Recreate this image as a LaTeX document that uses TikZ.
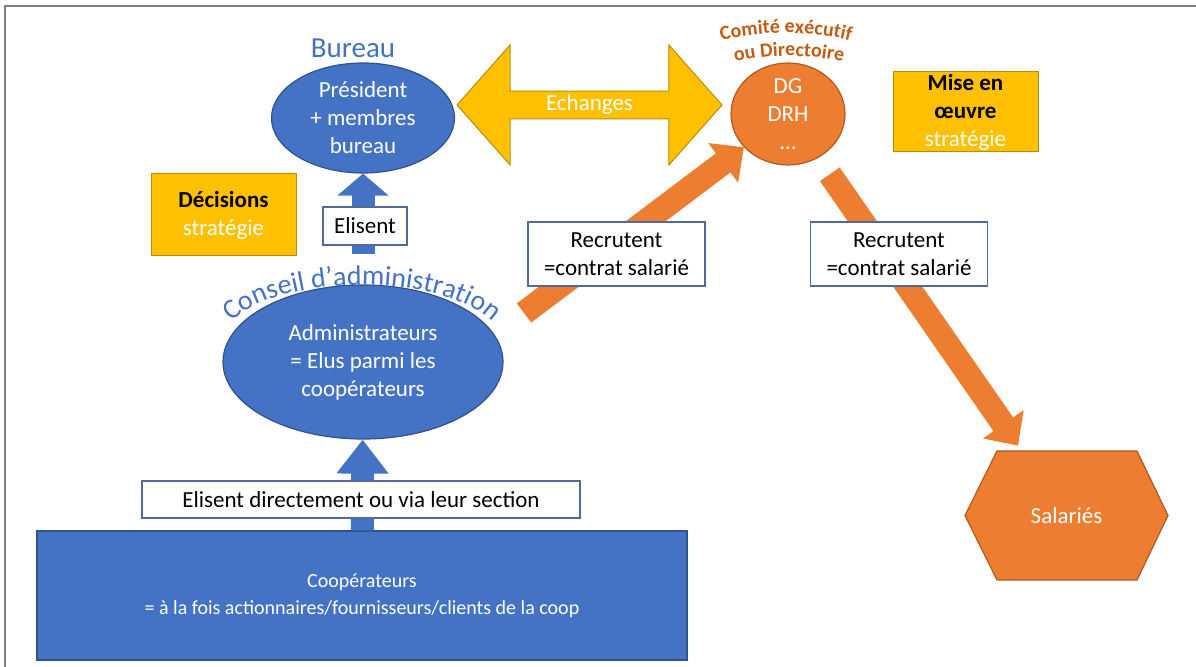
\documentclass[tikz,border=0pt]{standalone}
\usepackage{fontspec}
\setmainfont{Carlito}
\usepackage{xcolor}
\usepackage{tikz}
\usetikzlibrary{arrows.meta,shapes,decorations.text}

\definecolor{coopblue}{HTML}{4472C4}
\definecolor{coopblueline}{HTML}{2F528F}
\definecolor{cooporange}{HTML}{ED7D31}
\definecolor{cooporangeline}{HTML}{AE5A21}
\definecolor{coopgold}{HTML}{FFC000}
\definecolor{coopgoldline}{HTML}{BC8C00}
\definecolor{comitetext}{HTML}{C55A11}
\definecolor{labelline}{HTML}{4F6B9A}
\definecolor{framegray}{HTML}{7F7F7F}

\begin{document}
\begin{tikzpicture}[x=0.5pt,y=-0.5pt,
        txt/.style={font=\fontsize{11.5}{14}\selectfont,align=center},
        blueell/.style={ellipse,fill=coopblue,draw=coopblueline,line width=0.6pt,text=white,txt,inner sep=-1.5pt},
        goldbox/.style={rectangle,fill=coopgold,draw=coopgoldline,line width=0.5pt,txt,inner sep=0pt},
        labelbox/.style={rectangle,fill=white,draw=labelline,line width=0.6pt,txt,inner sep=0pt},
        bluearrow/.style={draw=coopblue,line width=11.5pt,-{Triangle[width=25pt,length=#1]}},
        bluearrow/.default=11pt,
        orangearrow/.style={draw=cooporange,line width=12pt,-{Triangle[width=24pt,length=13pt]}}]
    \useasboundingbox (0,0) rectangle (1196,667);
    \draw[framegray,line width=1.2pt] (5,667) -- (5,6) -- (1196,6);

    \node[blueell,minimum width=91.5pt,minimum height=55pt] (bureau) at (363,118) {Président\\+ membres\\bureau};
    \node[blueell,minimum width=140pt,minimum height=77pt] (conseil) at (363,362) {Administrateurs\\= Elus parmi les\\coopérateurs};
    \node[rectangle,fill=coopblue,draw=coopblueline,line width=0.6pt,text=white,align=center,
        font=\fontsize{10}{13.5}\selectfont,minimum width=325pt,minimum height=64.5pt] (coop) at (362,595.5) {Coopérateurs\\= à la fois actionnaires/fournisseurs/clients de la coop};
    \node[ellipse,fill=cooporange,draw=cooporangeline,line width=0.6pt,text=white,txt,inner sep=-4pt,minimum width=57pt,minimum height=51pt] (comite) at (788,114) {DG\\DRH\\…};
    \fill[cooporange,draw=cooporangeline,line width=0.6pt] (965,515.5) -- (997,451) -- (1137,451) -- (1168,515.5) -- (1137,580) -- (997,580) -- cycle;
    \node[txt,text=white,minimum width=101.5pt,minimum height=64.5pt] (salaries) at (1066.5,515.5) {Salariés};

    \node[goldbox,minimum width=72.5pt,minimum height=41pt] (decisions) at (223.5,215) {\textbf{Décisions}\\\textcolor{white}{stratégie}};
    \node[goldbox,minimum width=72.5pt,minimum height=40pt] (miseoeuvre) at (965.5,112) {\textbf{Mise en}\\\textbf{œuvre}\\\textcolor{white}{stratégie}};
    \node[double arrow,fill=coopgold,draw=coopgoldline,line width=0.5pt,text=white,txt,inner sep=0pt,
        minimum width=60pt,minimum height=132.5pt,double arrow head extend=17.5pt,
        double arrow head indent=0pt,double arrow tip angle=97] (echanges) at (589.5,105) {Echanges};

    \node[text=coopblue,font=\fontsize{14.5}{14.5}\selectfont] (bureautitle) at (353,48) {Bureau};
    \path[decorate,decoration={text along path,text align=center,text color=coopblue,
        text={|\fontsize{14}{14}\selectfont|Conseil d’administration}}]
        (224.8,329.5) arc[start angle=195,end angle=345,x radius=142,y radius=60];
    \path[decorate,decoration={text along path,text align=center,text color=comitetext,
        text={|\bfseries\fontsize{10}{10}\selectfont|Comité exécutif}}]
        (709.9,43.7) arc[start angle=254,end angle=286,radius=276];
    \path[decorate,decoration={text along path,text align=center,text color=comitetext,
        text={|\bfseries\fontsize{10}{10}\selectfont|ou Directoire}}]
        (721.2,65.5) arc[start angle=254,end angle=286,radius=246];

    \coordinate (conseil-out) at (524,313);
    \draw[bluearrow,shorten <=15pt] (conseil) -- (bureau);
    \draw[bluearrow=17pt] (coop) -- (conseil);
    \draw[orangearrow] (conseil-out) -- (comite);
    \draw[orangearrow,shorten <=10pt,shorten >=3pt] (comite) -- (salaries);

    \node[labelbox,minimum width=42pt,minimum height=19pt] (elisent) at (365,226) {Elisent};
    \node[labelbox,minimum width=219pt,minimum height=18.5pt] (elisentdir) at (361,499.5) {Elisent directement ou via leur section};
    \node[labelbox,minimum width=88.5pt,minimum height=32pt] (recrutent1) at (616.5,254) {Recrutent\\=contrat salarié};
    \node[labelbox,minimum width=88.5pt,minimum height=32pt] (recrutent2) at (899,254) {Recrutent\\=contrat salarié};
\end{tikzpicture}
\end{document}
